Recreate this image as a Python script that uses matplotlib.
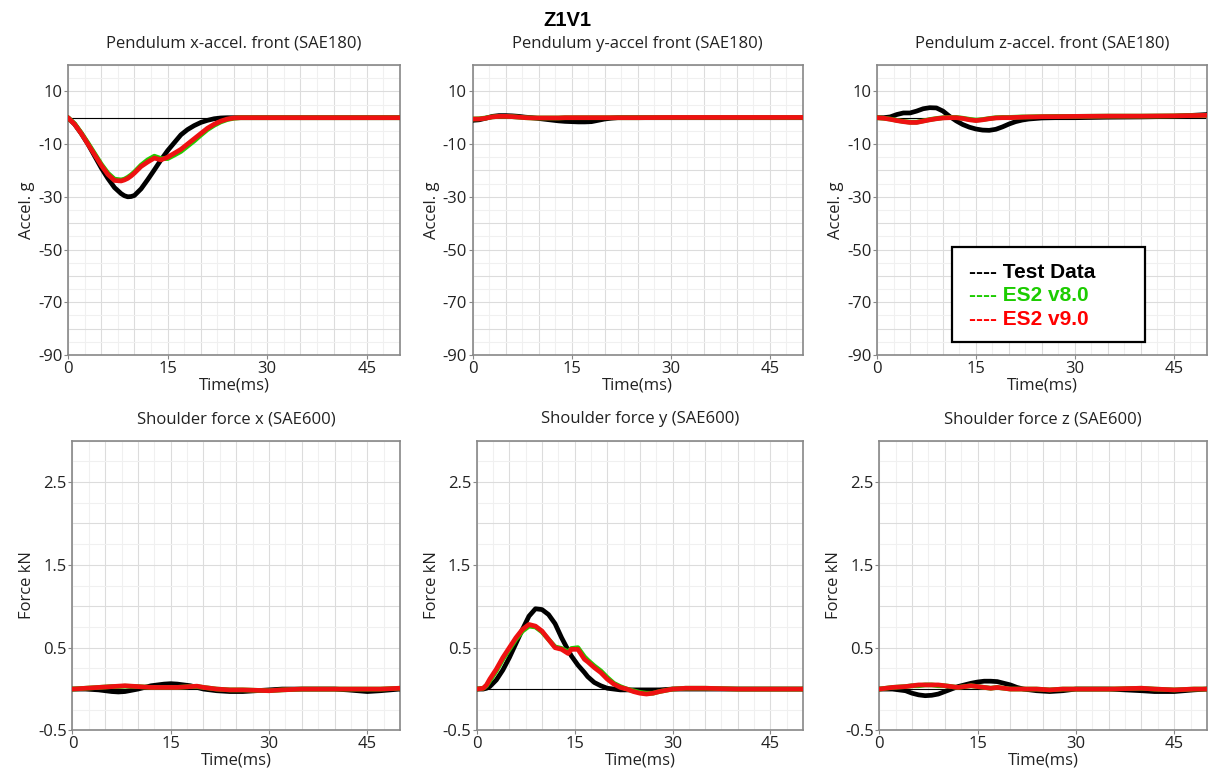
import matplotlib.pyplot as plt
from matplotlib.lines import Line2D
from matplotlib.patches import Rectangle

plt.rcParams['font.family'] = ['Open Sans', 'DejaVu Sans']
plt.rcParams['axes.unicode_minus'] = False

# --- Pendulum x-accel. front (g) ---
t_xacc = [0, 1, 2, 3, 4, 5, 6, 7, 8, 8.5, 9, 9.5, 10, 11, 12, 13, 14, 15, 16, 17, 18, 19,
          20, 21, 22, 23, 24, 25, 26, 28, 30, 35, 40, 45, 50]
xacc_test = [0, -2.5, -6, -10, -14.5, -19, -23, -26.5, -28.8, -29.6, -30, -29.9, -29.5,
             -27, -23.5, -19.8, -16, -12.5, -9.5, -6.5, -4.5, -3, -1.8, -1, -0.4, -0.1,
             0, 0, 0, 0, 0, 0, 0, 0, 0]
xacc_v8 = [0, -2.3, -5.8, -9.6, -13.6, -17.6, -21, -23.3, -23.6, -23.3, -22.6, -21.7,
           -20.6, -18, -16, -14.6, -15.5, -15.5, -14.2, -12.8, -10.8, -8.8, -6.6, -4.5,
           -2.9, -1.6, -0.7, -0.2, 0, 0, 0, 0, 0, 0, 0]
xacc_v9 = [0, -2.5, -6, -10, -14, -18, -21.5, -23.8, -24, -23.6, -23, -22.1, -21, -18.5,
           -16.8, -15.3, -16, -15, -13.5, -12, -10, -8, -6, -4, -2.5, -1.3, -0.5, -0.1,
           0, 0, 0, 0, 0, 0, 0]

# --- Pendulum y-accel front (g) ---
t_yacc = [0, 1, 2, 3, 4, 5, 6, 7, 8, 9, 10, 11, 12, 13, 14, 15, 16, 17, 18, 19, 20,
          21, 22, 25, 30, 35, 40, 45, 50]
yacc_test = [-1, -0.8, -0.2, 0.5, 0.8, 0.8, 0.7, 0.5, 0.2, 0, -0.3, -0.6, -0.9, -1.2, -1.4,
             -1.5, -1.6, -1.6, -1.5, -1.0, -0.5, -0.2, 0, 0, 0, 0, 0, 0, 0]
yacc_v8 = [-0.5, -0.4, -0.1, 0.3, 0.5, 0.5, 0.4, 0.2, 0, -0.1, -0.1, -0.1, -0.1, -0.1, 0,
           0, 0, 0, 0, 0, 0, 0, 0, 0, 0.1, 0.1, 0.1, 0.1, 0.1]
yacc_v9 = [-0.5, -0.5, -0.2, 0.3, 0.5, 0.5, 0.4, 0.2, 0, -0.1, -0.1, -0.1, -0.1, -0.1, 0,
           0, 0, 0, 0, 0, 0, 0, 0, 0, 0.1, 0.1, 0.1, 0.1, 0.1]

# --- Pendulum z-accel. front (g) ---
t_zacc = [0, 1, 2, 3, 4, 5, 6, 7, 8, 9, 10, 11, 12, 13, 14, 15, 16, 17, 18, 19, 20,
          21, 22, 23, 24, 25, 27, 30, 35, 40, 45, 50]
zacc_test = [0, 0, 0.3, 1.2, 1.8, 1.8, 2.5, 3.4, 3.8, 3.7, 2.5, 0.5, -1.2, -2.6, -3.6, -4.3,
             -4.7, -4.8, -4.4, -3.5, -2.4, -1.5, -0.9, -0.5, -0.3, -0.1, 0, 0, 0.2, 0.3,
             0.5, 1.2]
zacc_v8 = [0, -0.2, -0.5, -1.0, -1.4, -1.7, -1.7, -1.2, -0.7, -0.3, 0, 0.1, 0.1, -0.2,
           -0.6, -0.9, -0.7, -0.3, 0, 0.1, 0.1, 0.2, 0.3, 0.3, 0.4, 0.4, 0.5, 0.5, 0.6,
           0.6, 0.7, 0.9]
zacc_v9 = [0, -0.2, -0.6, -1.1, -1.5, -1.8, -1.8, -1.3, -0.8, -0.4, -0.1, 0, 0, -0.3,
           -0.8, -1.1, -0.8, -0.4, -0.1, 0, 0, 0.1, 0.2, 0.3, 0.3, 0.4, 0.4, 0.5, 0.6,
           0.6, 0.7, 0.9]

# --- Shoulder force x (kN) ---
t_fx = [0, 2, 4, 6, 7, 8, 10, 12, 14, 15, 16, 18, 19, 20, 22, 24, 25, 26, 28, 30, 32,
        35, 38, 40, 42, 45, 47, 50]
fx_test = [0, 0, -0.01, -0.03, -0.035, -0.03, 0, 0.04, 0.06, 0.065, 0.06, 0.04, 0.02, 0,
           -0.02, -0.03, -0.03, -0.03, -0.02, -0.01, 0, 0, 0, 0, -0.01, -0.03, -0.02, 0]
fx_v8 = [0, 0.01, 0.02, 0.03, 0.03, 0.035, 0.03, 0.02, 0.02, 0.02, 0.02, 0.03, 0.03,
         0.02, 0, -0.01, -0.01, -0.01, -0.015, -0.02, -0.01, 0, 0, 0, 0, 0, 0, 0.01]
fx_v9 = [0, 0.01, 0.02, 0.03, 0.035, 0.04, 0.03, 0.02, 0.02, 0.02, 0.02, 0.03, 0.035,
         0.02, 0, -0.01, -0.01, -0.01, -0.015, -0.02, -0.01, 0, 0, 0, 0, 0, 0, 0.01]

# --- Shoulder force y (kN) ---
t_fy = [0, 1, 1.5, 2, 3, 4, 5, 6, 7, 8, 9, 10, 11, 12, 13, 14, 14.5, 15.5, 16.5, 17,
        18, 19, 20, 21, 22, 23, 24, 25, 26, 27, 28, 30, 32, 35, 40, 45, 50]
fy_test = [0, 0, 0.01, 0.03, 0.11, 0.23, 0.38, 0.55, 0.72, 0.88, 0.97, 0.96, 0.9, 0.79,
           0.62, 0.47, 0.4, 0.29, 0.2, 0.15, 0.08, 0.04, 0.01, 0, -0.01, -0.01, -0.01,
           -0.01, -0.01, -0.01, -0.01, 0, 0, 0, 0, 0, 0]
fy_v8 = [0, 0.01, 0.04, 0.1, 0.22, 0.36, 0.48, 0.6, 0.7, 0.76, 0.75, 0.69, 0.6, 0.51,
         0.49, 0.45, 0.49, 0.5, 0.39, 0.35, 0.28, 0.22, 0.14, 0.07, 0.03, 0, -0.02,
         -0.04, -0.05, -0.05, -0.03, 0, 0.01, 0.01, 0, 0, 0]
fy_v9 = [0, 0.01, 0.05, 0.12, 0.24, 0.38, 0.5, 0.62, 0.72, 0.78, 0.76, 0.7, 0.6, 0.5,
         0.48, 0.43, 0.48, 0.48, 0.36, 0.33, 0.26, 0.2, 0.12, 0.06, 0.02, 0, -0.03,
         -0.05, -0.06, -0.05, -0.03, 0, 0.01, 0.01, 0, 0, 0]

# --- Shoulder force z (kN) ---
t_fz = [0, 2, 4, 5, 6, 7, 8, 9, 10, 11, 12, 14, 15, 16, 17, 18, 19, 20, 21, 22, 24, 26,
        28, 30, 35, 40, 42, 45, 48, 50]
fz_test = [0, 0, -0.02, -0.05, -0.07, -0.08, -0.075, -0.06, -0.03, 0, 0.03, 0.07, 0.085,
           0.095, 0.095, 0.09, 0.07, 0.05, 0.02, 0, -0.02, -0.03, -0.02, 0, 0, -0.02,
           -0.03, -0.03, -0.01, 0]
fz_v8 = [0, 0.02, 0.03, 0.04, 0.04, 0.05, 0.05, 0.04, 0.04, 0.03, 0.02, 0.04, 0.03, 0.02,
         0.01, 0.02, 0.01, 0, 0, 0, 0, -0.01, 0, 0, 0, 0.01, 0, -0.01, 0, 0]
fz_v9 = [0, 0.02, 0.03, 0.04, 0.05, 0.05, 0.05, 0.05, 0.04, 0.03, 0.02, 0.04, 0.03, 0.02,
         0.01, 0.02, 0.01, 0, 0, 0, 0, -0.01, 0, 0, 0, 0.01, 0, -0.01, 0, 0]

series_names = ['Test Data', 'ES2 v8.0', 'ES2 v9.0']
series_colors = ['#000000', '#22cc00', '#ee1111']
text_colors = ['#000000', '#1ccc00', '#ff0000']

accel_ticks = [10, -10, -30, -50, -70, -90]
force_ticks = [-0.5, 0.5, 1.5, 2.5]
time_ticks = [0, 15, 30, 45]

panels = [
    ('Pendulum x-accel. front (SAE180)', 'Accel. g', t_xacc, [xacc_test, xacc_v8, xacc_v9]),
    ('Pendulum y-accel front (SAE180)', 'Accel. g', t_yacc, [yacc_test, yacc_v8, yacc_v9]),
    ('Pendulum z-accel. front (SAE180)', 'Accel. g', t_zacc, [zacc_test, zacc_v8, zacc_v9]),
    ('Shoulder force x (SAE600)', 'Force kN', t_fx, [fx_test, fx_v8, fx_v9]),
    ('Shoulder force y (SAE600)', 'Force kN', t_fy, [fy_test, fy_v8, fy_v9]),
    ('Shoulder force z (SAE600)', 'Force kN', t_fz, [fz_test, fz_v8, fz_v9]),
]

# axes boxes in figure fractions (left, bottom, width, height)
boxes = [
    (0.0562, 0.5437, 0.2744, 0.3728),
    (0.3905, 0.5437, 0.2731, 0.3728),
    (0.7248, 0.5437, 0.2727, 0.3728),
    (0.0599, 0.0611, 0.2707, 0.3725),
    (0.3940, 0.0611, 0.2697, 0.3725),
    (0.7267, 0.0611, 0.2708, 0.3725),
]

fig = plt.figure(figsize=(12.1, 7.78), dpi=100)
fig.text(0.4686, 0.974, 'Z1V1', ha='center', va='center', fontsize=14.5,
         fontweight='bold', family='Liberation Sans')

for i, (title, ylabel, t, ys) in enumerate(panels):
    ax = fig.add_axes(boxes[i])
    top_row = i < 3
    ax.axhline(0, color='black', lw=0.8, zorder=2)
    for y, c in zip(ys, series_colors):
        ax.plot(t, y, color=c, lw=3.4, solid_capstyle='round', solid_joinstyle='round',
                zorder=3)
    ax.set_xlim(0, 50)
    ax.set_xticks(time_ticks)
    if top_row:
        ax.set_ylim(-90, 20)
        ax.set_yticks(accel_ticks)
    else:
        ax.set_ylim(-0.5, 3.0)
        ax.set_yticks(force_ticks)
    # grid: every 5 ms / 10 g / 0.5 kN darker, halves lighter
    for v in range(0, 51, 5):
        ax.axvline(v, color='#dcdcdc', lw=0.8, zorder=0)
    for k in range(10):
        ax.axvline(2.5 + 5 * k, color='#f0f0f0', lw=0.8, zorder=0)
    if top_row:
        for v in range(-90, 21, 10):
            ax.axhline(v, color='#dcdcdc', lw=0.8, zorder=0)
        for v in range(-85, 20, 10):
            ax.axhline(v, color='#f0f0f0', lw=0.8, zorder=0)
    else:
        for k in range(8):
            ax.axhline(-0.5 + 0.5 * k, color='#dcdcdc', lw=0.8, zorder=0)
            ax.axhline(-0.25 + 0.5 * k, color='#f0f0f0', lw=0.8, zorder=0)
    ax.tick_params(which='major', length=3, width=0.8, color='#888888', pad=1,
                   labelsize=12, labelcolor='#222222')
    for s in ax.spines.values():
        s.set_color('#888888')
        s.set_linewidth(1.2)
    ax.set_title(title, fontsize=12, color='#222222', pad=12.5)
    ax.set_ylabel(ylabel, fontsize=12, color='#222222', labelpad=2)
    ax.set_xlabel('Time(ms)', fontsize=12, color='#222222', labelpad=0.5)

    if i == 2:
        # legend box drawn separately so it can be wider than its text
        ax.add_patch(Rectangle((0.226, 0.046), 0.586, 0.327, transform=ax.transAxes,
                               facecolor='white', edgecolor='black', lw=1.6, zorder=5))
        handles = [Line2D([], [], color=c, lw=0) for c in series_colors]
        labels = ['---- ' + n for n in series_names]
        leg = ax.legend(handles, labels, loc='upper left',
                        bbox_to_anchor=(0.28, 0.318), frameon=False,
                        handlelength=0, handletextpad=0, borderpad=0,
                        borderaxespad=0, labelspacing=0.22,
                        prop={'family': 'Liberation Sans', 'weight': 'bold', 'size': 15})
        leg.set_zorder(6)
        for txt, c in zip(leg.get_texts(), text_colors):
            txt.set_color(c)

fig.savefig('out.png', dpi=100)
